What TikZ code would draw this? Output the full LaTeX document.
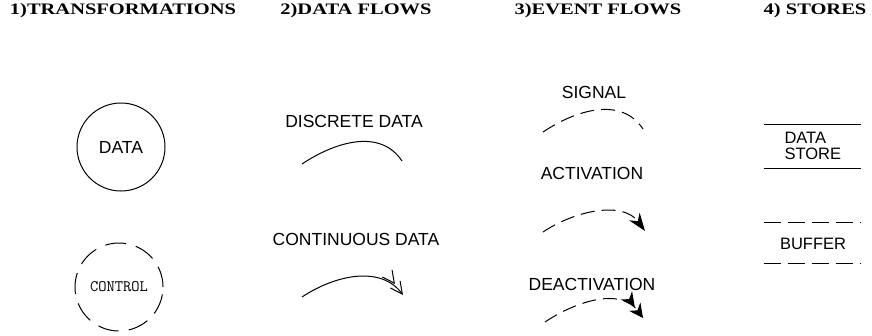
\documentclass[tikz,border=0pt]{standalone}
\usepackage{fontspec}
\setmainfont{Liberation Serif}
\setsansfont{Liberation Sans}
\usetikzlibrary{arrows.meta}

\begin{document}
\begin{tikzpicture}[x=1pt,y=-1pt,line width=1pt,
  every node/.style={inner sep=0pt},
  title/.style={anchor=base,font=\fontsize{16}{18}\selectfont\bfseries},
  label/.style={font=\fontsize{17.5}{20}\sffamily},
  evdash/.style={dash pattern=on 14pt off 7pt}]
\useasboundingbox (0,0) rectangle (872,335);

%%% TITLES %%%
\node [title] at (123,14) (t_trans) {\scalebox{1.28}[1]{1)TRANSFORMATIONS}};
\node [title] at (356,14) (t_data) {\scalebox{1.28}[1]{2)DATA FLOWS}};
\node [title] at (598,14) (t_event) {\scalebox{1.28}[1]{3)EVENT FLOWS}};
\node [title] at (815,14) (t_store) {\scalebox{1.28}[1]{4) STORES}};

%%% TRANSFORMATIONS %%%
\node [draw,circle,minimum size=88pt,label] at (121,147) (data) {DATA};
\node [draw,circle,minimum size=88pt,dash pattern=on 21pt off 10pt,
  font=\fontsize{16}{18}\ttfamily] at (119,287) (control) {CONTROL};

%%% DATA FLOWS %%%
\node [label] at (354,121) (discrete) {DISCRETE DATA};
\coordinate (ds) at (302,164);
\coordinate (de) at (402,161);
\draw (ds) .. controls +(33,-22) and +(-22,-33) .. (de);

\node [label] at (356,239) (continuous) {CONTINUOUS DATA};
\coordinate (cs) at (302,297);
\coordinate (ce) at (403,295);
\draw [-{Straight Barb[length=12pt,width=12pt]Straight Barb[length=12pt,width=12pt]}]
  (cs) .. controls +(33,-22) and +(-22,-30) .. (ce);

%%% EVENT FLOWS %%%
\node [label] at (594,92) (signal) {SIGNAL};
\coordinate (ss) at (543,132);
\coordinate (se) at (643,129);
\draw [evdash] (ss) .. controls +(33,-22) and +(-22,-33) .. (se);

\node [label] at (592,173) (activation) {ACTIVATION};
\coordinate (as) at (543,232);
\coordinate (ae) at (645,231);
\draw [evdash,-{Stealth[length=18pt,width=13pt]}]
  (as) .. controls +(33,-22) and +(-22,-30) .. (ae);

\node [label] at (592,284) (deactivation) {DEACTIVATION};
\coordinate (es) at (545,322);
\coordinate (ee) at (643,318);
\draw [evdash,-{Stealth[length=14pt,width=14pt]Stealth[length=14pt,width=14pt]}]
  (es) .. controls +(33,-22) and +(-22,-30) .. (ee);

%%% STORES %%%
\coordinate (s1a) at (764,124);
\coordinate (s1b) at (861,124);
\coordinate (s2a) at (764,168);
\coordinate (s2b) at (861,168);
\draw (s1a) -- (s1b);
\draw (s2a) -- (s2b);
\node [align=left,font=\fontsize{16.5}{16}\sffamily,anchor=west] at (784,146) (store) {DATA\\STORE};

\coordinate (b1a) at (764,222);
\coordinate (b1b) at (861,222);
\coordinate (b2a) at (764,263);
\coordinate (b2b) at (861,263);
\draw [dash pattern=on 17pt off 7pt] (b1a) -- (b1b);
\draw [dash pattern=on 17pt off 7pt] (b2a) -- (b2b);
\node [font=\fontsize{16.5}{16}\sffamily] at (813,244) (buffer) {BUFFER};
\end{tikzpicture}
\end{document}
